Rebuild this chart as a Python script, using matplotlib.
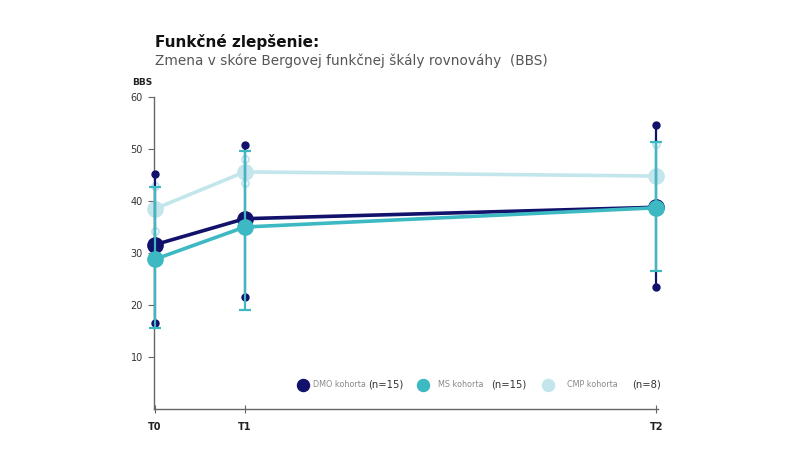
import matplotlib
matplotlib.use("Agg")
import matplotlib.pyplot as plt

# ---- data ----
timepoints = ["T0", "T1", "T2"]
time_pos = [0.0, 1.0, 5.58]

dmo_mean = [31.6, 36.6, 38.8]
dmo_low = [16.6, 21.6, 23.4]
dmo_high = [45.1, 50.8, 54.6]

ms_mean = [28.8, 35.0, 38.7]
ms_low = [15.5, 19.0, 26.6]
ms_high = [42.6, 49.7, 51.3]

cmp_mean = [38.5, 45.6, 44.8]
cmp_low = [34.3, 43.4, 38.1]
cmp_high = [42.9, 48.0, 51.0]

series_names = ["DMO kohorta", "MS kohorta", "CMP kohorta"]
series_n = ["(n=15)", "(n=15)", "(n=8)"]
y_ticks = [10, 20, 30, 40, 50, 60]

c_dmo = "#12116b"
c_ms = "#3cb9c2"
c_cmp = "#c3e6ec"

plt.rcParams["font.family"] = ["DejaVu Sans"]

fig = plt.figure(figsize=(8, 4.5), dpi=100)
ax = fig.add_axes([0.1925, 0.0911, 0.63, 0.6933])

def draw(mean, low, high, color, endstyle, z):
    for x, lo, hi in zip(time_pos, low, high):
        ax.plot([x, x], [lo, hi], color=color, lw=1.6, zorder=z, solid_capstyle="butt", clip_on=False)
        if endstyle == "dot":
            ax.plot([x, x], [lo, hi], "o", color=color, ms=5, zorder=z + 0.1, clip_on=False)
        elif endstyle == "cap":
            ax.plot([x, x], [lo, hi], "_", color=color, ms=9, mew=1.6, zorder=z + 0.1, clip_on=False)
        else:
            ax.plot([x, x], [lo, hi], "o", mfc="white", mec=color, ms=5, mew=1.4, zorder=z + 0.1, clip_on=False)
    ax.plot(time_pos, mean, "-", color=color, lw=2.6, zorder=z + 0.2, clip_on=False)
    ax.plot(time_pos, mean, "o", color=color, ms=11, zorder=z + 0.3, clip_on=False)

draw(cmp_mean, cmp_low, cmp_high, c_cmp, "hollow", 2)
draw(dmo_mean, dmo_low, dmo_high, c_dmo, "dot", 3)
draw(ms_mean, ms_low, ms_high, c_ms, "cap", 4)

ax.set_xlim(-0.01, 5.6)
ax.set_ylim(0, 60)
ax.set_yticks(y_ticks)
ax.set_yticklabels([str(t) for t in y_ticks], fontsize=7, color="#333333")
ax.set_xticks(time_pos)
ax.set_xticklabels(timepoints, fontsize=7, color="#222222", fontweight="bold")
ax.tick_params(axis="y", length=4, width=0.8, color="#666666", pad=4)
ax.tick_params(axis="x", direction="inout", length=6, width=0.8, color="#666666", pad=6)
for s in ["top", "right"]:
    ax.spines[s].set_visible(False)
for s in ["left", "bottom"]:
    ax.spines[s].set_color("#666666")
    ax.spines[s].set_linewidth(1.0)

ax.text(-0.043, 1.048, "BBS", transform=ax.transAxes, fontsize=6.5, fontweight="bold",
        color="#222222", ha="left", va="center")

# legend
leg_x = [0.296, 0.534, 0.782]
leg_tx = [0.315, 0.563, 0.819]
leg_nx = [0.425, 0.669, 0.948]
colors = [c_dmo, c_ms, c_cmp]
for i in range(3):
    ax.scatter([leg_x[i]], [0.077], s=75, color=colors[i], transform=ax.transAxes, zorder=6, clip_on=False)
    ax.text(leg_tx[i], 0.077, series_names[i], transform=ax.transAxes, fontsize=5.8,
            color="#888888", va="center", ha="left")
    ax.text(leg_nx[i], 0.077, series_n[i], transform=ax.transAxes, fontsize=7.2,
            color="#333333", va="center", ha="left")

fig.text(0.194, 0.907, "Funkčné zlepšenie:", fontsize=11, fontweight="bold", color="#111111",
         ha="left", va="center")
fig.text(0.194, 0.864, "Zmena v skóre Bergovej funkčnej škály rovnováhy  (BBS)", fontsize=9.8,
         color="#555555", ha="left", va="center")

fig.savefig("out.png", dpi=100, facecolor="white")
